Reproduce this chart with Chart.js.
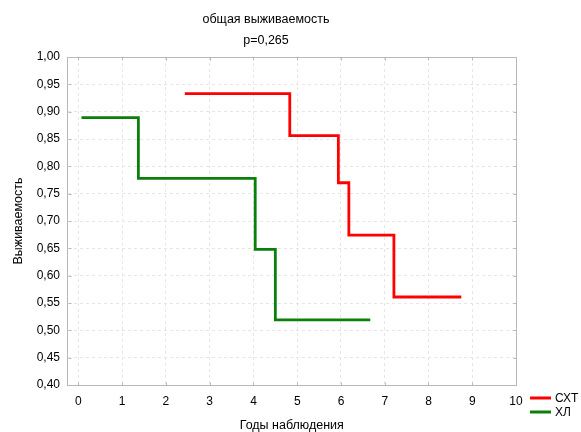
<!DOCTYPE html>
<html>
<head>
<meta charset="utf-8">
<script src="https://cdn.jsdelivr.net/npm/chart.js@4/dist/chart.umd.min.js"></script>
<style>
  html, body { margin: 0; padding: 0; background: #ffffff; }
  #wrap { width: 581px; height: 432px; }
</style>
</head>
<body>
<div id="wrap"><canvas id="km" width="581" height="432"></canvas></div>
<script>
// Texts
const chartTitle = 'общая выживаемость';
const pValueText = 'p=0,265';
const xAxisTitle = 'Годы наблюдения';
const yAxisTitle = 'Выживаемость';
const seriesNames = ['СХТ', 'ХЛ'];

// Kaplan–Meier steps: event times (years) and survival after each event
const sxtTimes = [2.43, 4.83, 5.94, 6.18, 7.21, 8.75];
const sxtSurvival = [0.933, 0.856, 0.770, 0.674, 0.561, 0.561];
const hlTimes = [0.07, 1.37, 4.04, 4.50, 6.67];
const hlSurvival = [0.889, 0.778, 0.648, 0.519, 0.519];

// Axis ticks
const xTicks = [0, 1, 2, 3, 4, 5, 6, 7, 8, 9, 10];
const yTicks = [0.40, 0.45, 0.50, 0.55, 0.60, 0.65, 0.70, 0.75, 0.80, 0.85, 0.90, 0.95, 1.00];

const FONT = '"Liberation Sans", Arial, sans-serif';
const FRAME = '#b8b8b8';
const GRID = '#e6e6e6';
const seriesColors = ['#ff0000', '#0a800a'];

const toPoints = (xs, ys) => xs.map((x, i) => ({ x: x, y: ys[i] }));
const fmt = v => v.toFixed(2).replace('.', ',');

// Frame, inward tick marks, headings and legend
const decor = {
  id: 'decor',
  afterDraw(chart) {
    const ctx = chart.ctx;
    const a = chart.chartArea;
    const xs = chart.scales.x, ys = chart.scales.y;
    const L = Math.round(a.left) + 0.5, R = Math.round(a.right) + 0.5;
    const T = Math.round(a.top) + 0.5, B = Math.round(a.bottom) + 0.5;
    ctx.save();
    ctx.strokeStyle = FRAME;
    ctx.lineWidth = 1;
    ctx.beginPath();
    ctx.moveTo(L, T); ctx.lineTo(R, T); ctx.lineTo(R, B);
    xTicks.forEach(v => {
      const px = Math.round(xs.getPixelForValue(v)) + 0.5;
      ctx.moveTo(px, B); ctx.lineTo(px, B - 3);
      ctx.moveTo(px, T); ctx.lineTo(px, T + 3);
    });
    yTicks.forEach(v => {
      const py = Math.round(ys.getPixelForValue(v)) + 0.5;
      ctx.moveTo(L, py); ctx.lineTo(L + 3, py);
      ctx.moveTo(R, py); ctx.lineTo(R - 3, py);
    });
    ctx.stroke();

    // headings
    ctx.fillStyle = '#000';
    ctx.font = '12.5px ' + FONT;
    ctx.textAlign = 'center';
    ctx.textBaseline = 'middle';
    ctx.fillText(chartTitle, 266, 20);
    ctx.fillText(pValueText, 266, 41);

    // legend
    ctx.font = '12px ' + FONT;
    ctx.textAlign = 'left';
    chart.data.datasets.forEach((ds, i) => {
      const y = 398 + i * 14;
      ctx.strokeStyle = ds.borderColor;
      ctx.lineWidth = 3;
      ctx.beginPath();
      ctx.moveTo(530, y); ctx.lineTo(551, y);
      ctx.stroke();
      ctx.fillStyle = '#000';
      ctx.fillText(ds.label, 555, y + 1);
    });
    ctx.restore();
  }
};

new Chart(document.getElementById('km'), {
  type: 'line',
  data: {
    datasets: [
      {
        label: seriesNames[0],
        data: toPoints(sxtTimes, sxtSurvival),
        borderColor: seriesColors[0],
        borderWidth: 2.8,
        stepped: 'before',
        pointRadius: 0,
        fill: false
      },
      {
        label: seriesNames[1],
        data: toPoints(hlTimes, hlSurvival),
        borderColor: seriesColors[1],
        borderWidth: 2.8,
        stepped: 'before',
        pointRadius: 0,
        fill: false
      }
    ]
  },
  options: {
    responsive: false,
    devicePixelRatio: 1,
    animation: false,
    layout: { padding: { left: 12, top: 57, right: 65, bottom: 0 } },
    plugins: {
      legend: { display: false },
      title: { display: false },
      tooltip: { enabled: false }
    },
    scales: {
      x: {
        type: 'linear',
        min: -0.25,
        max: 10,
        afterBuildTicks: s => { s.ticks = xTicks.map(v => ({ value: v })); },
        afterFit: s => { s.height = 47; },
        ticks: {
          color: '#000',
          font: { family: FONT, size: 12 },
          padding: 9,
          maxRotation: 0,
          autoSkip: false
        },
        grid: { color: GRID, drawTicks: false },
        border: { color: FRAME, dash: [3, 3] },
        title: {
          display: true,
          text: xAxisTitle,
          color: '#000',
          font: { family: FONT, size: 12.5, lineHeight: 1 },
          padding: { top: 0, bottom: 0 }
        }
      },
      y: {
        type: 'linear',
        min: 0.40,
        max: 1.00,
        afterBuildTicks: s => { s.ticks = yTicks.map(v => ({ value: v })); },
        afterFit: s => { s.width = 55.5; },
        ticks: {
          color: '#000',
          font: { family: FONT, size: 12 },
          padding: 7.5,
          callback: v => fmt(v)
        },
        grid: { color: GRID, drawTicks: false },
        border: { color: FRAME, dash: [3, 3] },
        title: {
          display: true,
          text: yAxisTitle,
          color: '#000',
          font: { family: FONT, size: 12.5, lineHeight: 1 },
          padding: { top: 0, bottom: 0 }
        }
      }
    }
  },
  plugins: [decor]
});
</script>
</body>
</html>
